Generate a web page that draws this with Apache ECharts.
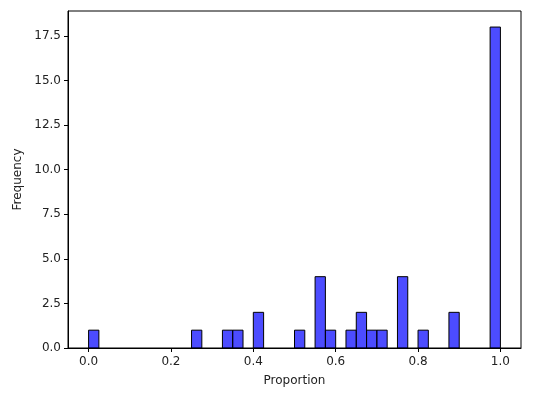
<!DOCTYPE html>
<html>
<head>
<meta charset="utf-8">
<script src="https://cdn.jsdelivr.net/npm/echarts@6/dist/echarts.min.js"></script>
<style>
    html, body { margin: 0; padding: 0; background: #fff; }
    #chart { width: 538px; height: 398px; }
</style>
</head>
<body>
<div id="chart"></div>
<script>
// histogram bins (width 0.025), only non-empty ones
var binWidth = 0.025;
var binStarts = [0.0, 0.25, 0.325, 0.35, 0.4, 0.5, 0.55, 0.575, 0.625, 0.65, 0.675, 0.7, 0.75, 0.8, 0.875, 0.975];
var counts    = [1,   1,    1,     1,    2,   1,   4,    1,     1,     2,    1,     1,   4,    1,   2,     18];
var xTicks = [0.0, 0.2, 0.4, 0.6, 0.8, 1.0];
var yTicks = [0, 2.5, 5, 7.5, 10, 12.5, 15, 17.5];

var histData = binStarts.map(function (s, i) {
    return [s, s + binWidth, counts[i]];
});

var myChart = echarts.init(document.getElementById('chart'));
var font = 'DejaVu Sans';
var option = {
    animation: false,
    backgroundColor: '#fff',
    grid: {
        left: 68, right: 17, top: 11, bottom: 50,
        show: true, borderColor: '#000', borderWidth: 1
    },
    xAxis: {
        type: 'value',
        min: -0.05, max: 1.05,
        name: 'Proportion',
        nameLocation: 'middle',
        nameGap: 27,
        nameTextStyle: { fontFamily: font, fontSize: 12, color: '#222' },
        splitLine: { show: false },
        axisLine: { onZero: false, lineStyle: { color: '#000' } },
        axisTick: { length: 4, lineStyle: { color: '#000' }, customValues: xTicks },
        axisLabel: {
            customValues: xTicks,
            fontFamily: font, fontSize: 12, color: '#222', margin: 8,
            formatter: function (v) { return v.toFixed(1); }
        }
    },
    yAxis: {
        type: 'value',
        min: 0, max: 18.9,
        name: 'Frequency',
        nameLocation: 'middle',
        nameGap: 44,
        nameTextStyle: { fontFamily: font, fontSize: 12, color: '#222' },
        splitLine: { show: false },
        axisLine: { show: true, onZero: false, lineStyle: { color: '#000' } },
        axisTick: { show: true, length: 4, lineStyle: { color: '#000' }, customValues: yTicks },
        axisLabel: {
            customValues: yTicks,
            fontFamily: font, fontSize: 12, color: '#222', margin: 7,
            formatter: function (v) { return v.toFixed(1); }
        }
    },
    series: [{
        type: 'custom',
        data: histData,
        encode: { x: [0, 1], y: 2 },
        renderItem: function (params, api) {
            var p0 = api.coord([api.value(0), api.value(2)]);
            var p1 = api.coord([api.value(1), 0]);
            return {
                type: 'rect',
                shape: { x: p0[0], y: p0[1], width: p1[0] - p0[0], height: p1[1] - p0[1] },
                style: { fill: 'rgba(0,0,255,0.7)', stroke: '#000', lineWidth: 1 }
            };
        }
    }]
};
myChart.setOption(option);
</script>
</body>
</html>
